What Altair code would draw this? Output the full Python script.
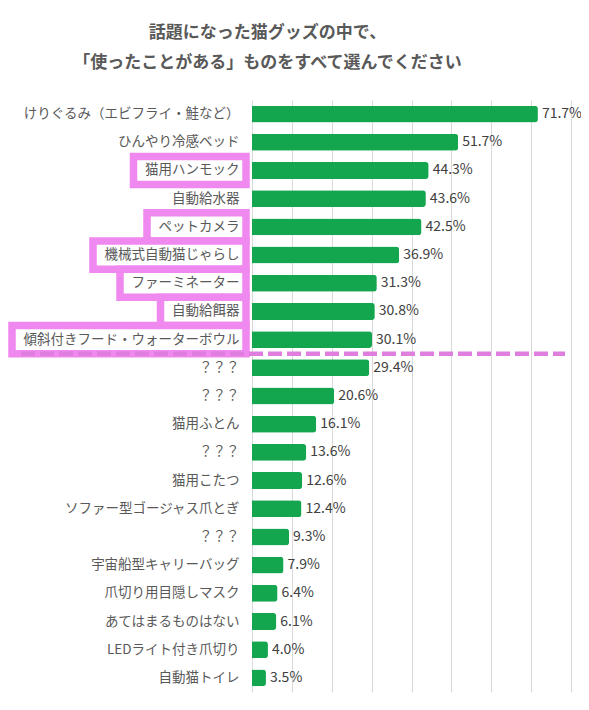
import pandas as pd
import altair as alt

# ── palette / fonts ──────────────────────────────────────────────────────────
GREEN = "#14A64F"
PINK = "#EF88EF"
DASH_PINK = "#E07EE0"
TEXT_GREY = "#595959"
VALUE_GREY = "#404040"
GRID_GREY = "#D9D9D9"
FONT = "Noto Sans CJK JP"

# ── data ─────────────────────────────────────────────────────────────────────
items = [
    "けりぐるみ（エビフライ・鮭など）",
    "ひんやり冷感ベッド",
    "猫用ハンモック",
    "自動給水器",
    "ペットカメラ",
    "機械式自動猫じゃらし",
    "ファーミネーター",
    "自動給餌器",
    "傾斜付きフード・ウォーターボウル",
    "？？？",
    "？？？",
    "猫用ふとん",
    "？？？",
    "猫用こたつ",
    "ソファー型ゴージャス爪とぎ",
    "？？？",
    "宇宙船型キャリーバッグ",
    "爪切り用目隠しマスク",
    "あてはまるものはない",
    "LEDライト付き爪切り",
    "自動猫トイレ",
]
values = [71.7, 51.7, 44.3, 43.6, 42.5, 36.9, 31.3, 30.8, 30.1, 29.4, 20.6,
          16.1, 13.6, 12.6, 12.4, 9.3, 7.9, 6.4, 6.1, 4.0, 3.5]

# labels framed in pink, and the row after which the dashed cut line sits
highlighted = [2, 4, 5, 6, 7, 8]
cut_before = 9

title_lines = ["話題になった猫グッズの中で、", "「使ったことがある」ものをすべて選んでください"]

# ── layout ───────────────────────────────────────────────────────────────────
PLOT_W, PLOT_H = 319, 592
X_MAX = 80
LABEL_FS = 13.5
LABEL_PAD = 13
px_per_pct = PLOT_W / X_MAX

n = len(items)
order = list(range(n))

df = pd.DataFrame({"idx": order, "item": items, "value": values})
df["label"] = df["value"].map(lambda v: f"{v:.1f}%")


def text_px(s):
    # full-width glyphs are 1em in Noto Sans CJK, ASCII roughly half
    return sum(LABEL_FS if ord(c) > 255 else LABEL_FS * 0.55 for c in s)


# pink frames: from a bit left of the label text up to the axis line
box_rows = []
for i in highlighted:
    left_px = -(LABEL_PAD + text_px(items[i]) + 11)
    box_rows.append({"idx": i, "x0": left_px / px_per_pct, "x1": -6 / px_per_pct})
box_df = pd.DataFrame(box_rows)

cut_df = pd.DataFrame({"idx": [cut_before], "x0": [-231 / px_per_pct], "x1": [78.5]})

label_expr = "[" + ",".join(f"'{s}'" for s in items) + "][datum.value]"

x_scale = alt.Scale(domain=[0, X_MAX], nice=False, zero=True)
x_axis = alt.Axis(
    title=None, labels=False, ticks=False, domain=False,
    values=list(range(0, X_MAX + 1, 10)), gridColor=GRID_GREY, gridWidth=1,
)
band_scale = alt.Scale(domain=order, paddingInner=0.4, paddingOuter=0.2)
row_scale = alt.Scale(domain=order, paddingInner=0, paddingOuter=0)

# ── pink frames round the labels ─────────────────────────────────────────────
boxes = (
    alt.Chart(box_df)
    .mark_rect(fill="white", stroke=PINK, strokeWidth=7.5)
    .encode(
        x=alt.X("x0:Q", scale=x_scale, axis=x_axis),
        x2="x1:Q",
        y=alt.Y("idx:O", scale=row_scale, axis=None),
    )
)

# ── dashed cut line ──────────────────────────────────────────────────────────
cut = (
    alt.Chart(cut_df)
    .mark_rule(color=DASH_PINK, strokeWidth=4.5, strokeDash=[14, 5])
    .encode(
        x=alt.X("x0:Q", scale=x_scale, axis=x_axis),
        x2="x1:Q",
        y=alt.Y("idx:O", scale=row_scale, axis=None, bandPosition=0),
    )
)

# ── bars ─────────────────────────────────────────────────────────────────────
bars = (
    alt.Chart(df)
    .mark_bar(color=GREEN, cornerRadiusEnd=3)
    .encode(
        x=alt.X("value:Q", scale=x_scale, axis=x_axis),
        y=alt.Y(
            "idx:O", scale=band_scale,
            axis=alt.Axis(
                title=None, labelExpr=label_expr, ticks=False, domain=False,
                grid=False, labelPadding=LABEL_PAD, labelFontSize=LABEL_FS,
                labelColor=TEXT_GREY, labelFont=FONT, labelLimit=400, zindex=1,
            ),
        ),
        tooltip=["item:N", "label:N"],
    )
)

# ── value labels ─────────────────────────────────────────────────────────────
values_txt = (
    alt.Chart(df)
    .mark_text(align="left", baseline="middle", dx=4, fontSize=14,
               color=VALUE_GREY, font=FONT)
    .encode(
        x=alt.X("value:Q", scale=x_scale, axis=x_axis),
        y=alt.Y("idx:O", scale=band_scale, axis=None),
        text="label:N",
    )
)

chart = (
    alt.layer(boxes, cut, bars, values_txt)
    .resolve_scale(y="independent")
    .properties(
        width=PLOT_W,
        height=PLOT_H,
        padding={"left": 244, "top": 92, "right": 10, "bottom": 10},
        autosize=alt.AutoSizeParams(type="none"),
        title=alt.TitleParams(
            text=title_lines, fontSize=17, fontWeight="bold", color=TEXT_GREY,
            font=FONT, anchor="middle", dx=-144, offset=28, lineHeight=30,
        ),
    )
    .configure(background="white")
    .configure_view(stroke=None)
)

chart.save("out.html", embed_options={"renderer": "svg", "actions": False})
